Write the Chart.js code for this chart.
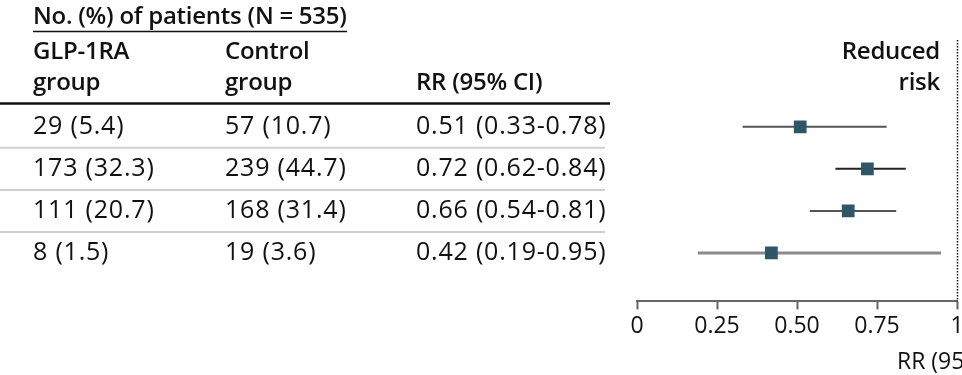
<!DOCTYPE html>
<html><head><meta charset="utf-8">
<script src="https://cdn.jsdelivr.net/npm/chart.js@4/dist/chart.umd.min.js"></script>
<style>html,body{margin:0;padding:0;background:#fff;overflow:hidden}#wrap{width:962px;height:375px;position:relative}</style>
</head><body><div id="wrap"><canvas id="c" width="962" height="375"></canvas></div>
<script>
// ---- data ----
const glpGroup = ['29 (5.4)', '173 (32.3)', '111 (20.7)', '8 (1.5)'];
const controlGroup = ['57 (10.7)', '239 (44.7)', '168 (31.4)', '19 (3.6)'];
const rr = [0.51, 0.72, 0.66, 0.42];
const ciLow = [0.33, 0.62, 0.54, 0.19];
const ciHigh = [0.78, 0.84, 0.81, 0.95];
const xTicks = [0, 0.25, 0.5, 0.75, 1];
const xTickLabels = ['0', '0.25', '0.50', '0.75', '1'];
const headerTitle = 'No. (%) of patients (N = 535)';
const colHeaders = [['GLP-1RA', 'group'], ['Control', 'group'], ['', 'RR (95% CI)']];
const sideLabel = ['Reduced', 'risk'];
const axisTitle = 'RR (95% CI)';

// ---- styles ----
const FONT = '"Open Sans", "Noto Sans", sans-serif';
const ciColors = ['#555555', '#222222', '#555555', '#8a8a8a'];
const ciWidths = [2, 2, 2, 3];
const markerColor = '#2e5666';

const fmt = v => v.toFixed(2);
const rrText = rr.map((v, i) => `${fmt(v)} (${fmt(ciLow[i])}-${fmt(ciHigh[i])})`);

const datasets = [];
rr.forEach((v, i) => {
  datasets.push({
    type: 'line',
    data: [{x: ciLow[i], y: i}, {x: ciHigh[i], y: i}],
    borderColor: ciColors[i], borderWidth: ciWidths[i],
    pointRadius: 0, showLine: true, order: 2
  });
});
datasets.push({
  type: 'scatter',
  data: rr.map((v, i) => ({x: v, y: i})),
  pointStyle: 'rect', pointRadius: 9, pointHoverRadius: 9,
  backgroundColor: markerColor, borderColor: markerColor, borderWidth: 0, order: 0
});

const tablePlugin = {
  id: 'table',
  afterDraw(chart) {
    const ctx = chart.ctx, ys = chart.scales.y, xs = chart.scales.x, ca = chart.chartArea;
    ctx.save();
    ctx.fillStyle = '#111';
    ctx.textBaseline = 'middle';
    ctx.textAlign = 'left';
    // header
    ctx.font = `600 24px ${FONT}`;
    ctx.letterSpacing = '-0.25px';
    ctx.fillText(headerTitle, 33, 17);
    ctx.strokeStyle = '#111'; ctx.lineWidth = 1.5;
    ctx.beginPath(); ctx.moveTo(33, 31.5); ctx.lineTo(347, 31.5); ctx.stroke();
    const colX = [33, 225, 416];
    colHeaders.forEach((h, c) => {
      ctx.fillText(h[0], colX[c], 52);
      ctx.fillText(h[1], colX[c], 83);
    });
    ctx.textAlign = 'right';
    ctx.fillText(sideLabel[0], 940, 52);
    ctx.fillText(sideLabel[1], 940, 83);
    // thick rule
    ctx.lineWidth = 2.5;
    ctx.beginPath(); ctx.moveTo(0, 103.5); ctx.lineTo(610, 103.5); ctx.stroke();
    // rows
    ctx.textAlign = 'left';
    ctx.font = `400 25px ${FONT}`;
    ctx.letterSpacing = '0.8px';
    rr.forEach((v, i) => {
      const py = ys.getPixelForValue(i);
      ctx.fillText(glpGroup[i], colX[0], py);
      ctx.fillText(controlGroup[i], colX[1], py);
      ctx.fillText(rrText[i], colX[2], py);
      if (i < rr.length - 1) {
        const sy = ys.getPixelForValue(i + 0.5);
        ctx.strokeStyle = '#d0d0cc'; ctx.lineWidth = 2;
        ctx.beginPath(); ctx.moveTo(0, sy); ctx.lineTo(605, sy); ctx.stroke();
      }
    });
    ctx.letterSpacing = '0px';
    // reference line at RR = 1
    const x1 = Math.round(xs.getPixelForValue(1)) + 0.5;
    ctx.strokeStyle = '#111'; ctx.lineWidth = 1.5; ctx.setLineDash([1.5, 1.5]);
    ctx.beginPath(); ctx.moveTo(x1, ca.top); ctx.lineTo(x1, ca.bottom); ctx.stroke();
    ctx.setLineDash([]);
    // axis title, centred on RR = 1
    ctx.textAlign = 'center';
    ctx.font = `400 23px ${FONT}`;
    ctx.fillText(axisTitle, xs.getPixelForValue(1), 362);
    ctx.restore();
  }
};

new Chart(document.getElementById('c'), {
  data: { datasets },
  options: {
    responsive: false, animation: false, devicePixelRatio: 1,
    layout: { autoPadding: false, padding: { left: 637, right: 5, top: 40, bottom: 32 } },
    plugins: { legend: { display: false }, tooltip: { enabled: false } },
    scales: {
      x: {
        type: 'linear', min: 0, max: 1,
        afterBuildTicks: s => { s.ticks = xTicks.map(v => ({value: v})); },
        afterFit: s => { s.paddingLeft = 0; s.paddingRight = 0; },
        ticks: {
          callback: (v) => xTickLabels[xTicks.indexOf(v)],
          font: { family: FONT, size: 23 }, color: '#111', padding: 3, maxRotation: 0
        },
        grid: { drawOnChartArea: false, tickLength: 8, tickColor: '#666', tickWidth: 2 },
        border: { display: true, color: '#666', width: 2 }
      },
      y: {
        type: 'linear', reverse: true, min: -2.064, max: 4.152, display: false
      }
    }
  },
  plugins: [tablePlugin]
});
</script></body></html>
